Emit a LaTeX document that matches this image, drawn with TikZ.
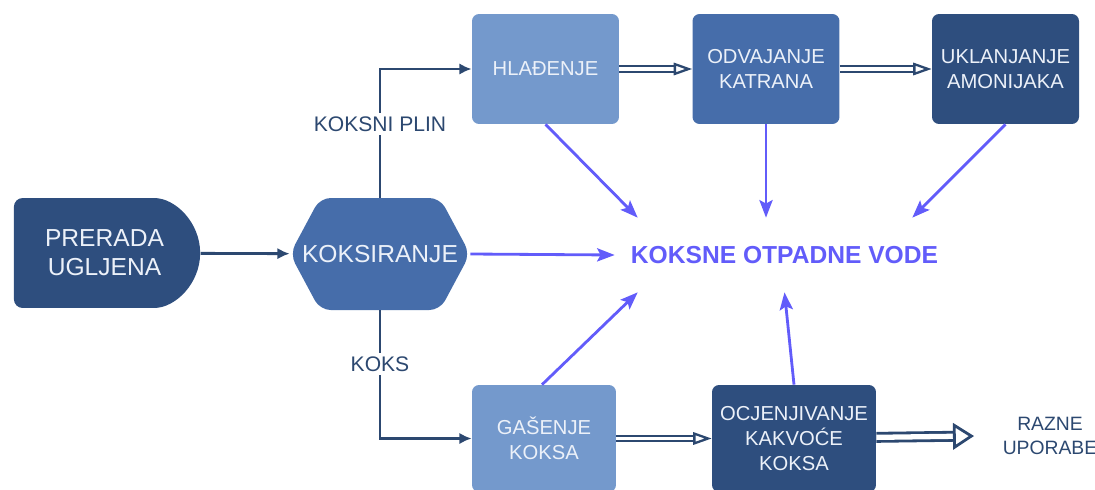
\documentclass[tikz,border=0pt]{standalone}
\usepackage{fontspec}
\setmainfont{Liberation Sans}
\usetikzlibrary{arrows.meta,shapes.misc}
\definecolor{tamna}{RGB}{46,78,126}
\definecolor{srednja}{RGB}{70,109,170}
\definecolor{svijetla}{RGB}{116,153,204}
\definecolor{crta}{RGB}{44,72,112}
\definecolor{voda}{RGB}{98,92,250}
\definecolor{slova}{RGB}{236,241,249}
\tikzset{
  kutija/.style={rectangle, rounded corners=4pt, text=slova, align=center,
    minimum width=2.94cm, minimum height=2.2cm, font=\fontsize{11.5}{14}\selectfont},
  tok/.style={crta, line width=1.6pt, -{Latex[length=7pt,width=6.5pt]}},
  dvostruko/.style={draw=crta, double=white, line width=1.3pt, double distance=1.8pt,
    -{Triangle[open,length=10.5pt,width=7pt]}},
  otpad/.style={voda, line width=1.6pt, -{Stealth[length=10pt,width=7.5pt,inset=2pt]}},
  oznaka/.style={fill=white, text=crta, inner sep=2pt, font=\fontsize{12}{14}\selectfont}
}
\begin{document}
\begin{tikzpicture}[x=0.02cm, y=-0.02cm]
    \useasboundingbox (0,0) rectangle (1095,490);
    % Koksiranje kao šesterokut, ostalo su kutije
    \node[rounded rectangle, rounded rectangle left arc=none, rounded corners=5pt, fill=tamna,
        text=slova, align=center, minimum width=3.96cm, minimum height=2.2cm,
        font=\fontsize{14}{16.5}\selectfont]
        (prer) at (104.5,253) {PRERADA\\UGLJENA};
    \fill[srednja, rounded corners=6pt] (290,254) -- (320,198) -- (440,198) -- (470,254)
        -- (440,310) -- (320,310) -- cycle;
    \node[minimum width=3.6cm, minimum height=2.24cm, text=slova, font=\fontsize{14}{16}\selectfont]
        (koks) at (380,254) {KOKSIRANJE};
    \node[kutija, fill=svijetla] (hla) at (545.5,69) {HLAĐENJE};
    \node[kutija, fill=srednja] (odv) at (766,69) {ODVAJANJE\\KATRANA};
    \node[kutija, fill=tamna] (ukl) at (1005.5,69) {UKLANJANJE\\AMONIJAKA};
    \node[kutija, fill=svijetla, minimum width=2.88cm, minimum height=2.14cm] (gas) at (544,438.5) {GAŠENJE\\KOKSA};
    \node[kutija, fill=tamna, minimum width=3.28cm, minimum height=2.14cm] (ocj) at (794,438.5) {OCJENJIVANJE\\KAKVOĆE\\KOKSA};
    \node[text=crta, align=center, font=\fontsize{11}{14}\selectfont] (razne) at (1050,436) {RAZNE\\UPORABE};
    \node[text=voda, font=\bfseries\fontsize{14}{16}\selectfont, minimum width=6.78cm, minimum height=1.48cm]
        (vode) at (784.5,255) {KOKSNE OTPADNE VODE};
    \draw[tok] (prer) -- (koks);
    \draw[tok] (koks.north) |- (hla.west) node[oznaka, pos=0.285] {KOKSNI PLIN};
    \draw[tok] (koks.south) |- (gas.west) node[oznaka, pos=0.21] {KOKS};
    \draw[dvostruko] (hla) -- (odv);
    \draw[dvostruko] (odv) -- (ukl);
    \draw[dvostruko] (gas) -- (ocj);
    \draw[dvostruko, line width=1.6pt, double distance=3pt, -{Triangle[open,length=12pt,width=15pt]}]
        (ocj) -- ([xshift=-0.45cm]razne.west);
    \draw[otpad] (koks.east) -- (vode.west);
    \draw[otpad] (hla.south) -- ([xshift=0.46cm]vode.north west);
    \draw[otpad] (odv.south) -- (odv.south |- vode.north);
    \draw[otpad] (ukl.south) -- ([xshift=-0.84cm]vode.north east);
    \draw[otpad] ([xshift=-0.04cm]gas.north) -- ([xshift=0.46cm]vode.south west);
    \draw[otpad] (ocj.north) -- (vode.south);
\end{tikzpicture}
\end{document}
